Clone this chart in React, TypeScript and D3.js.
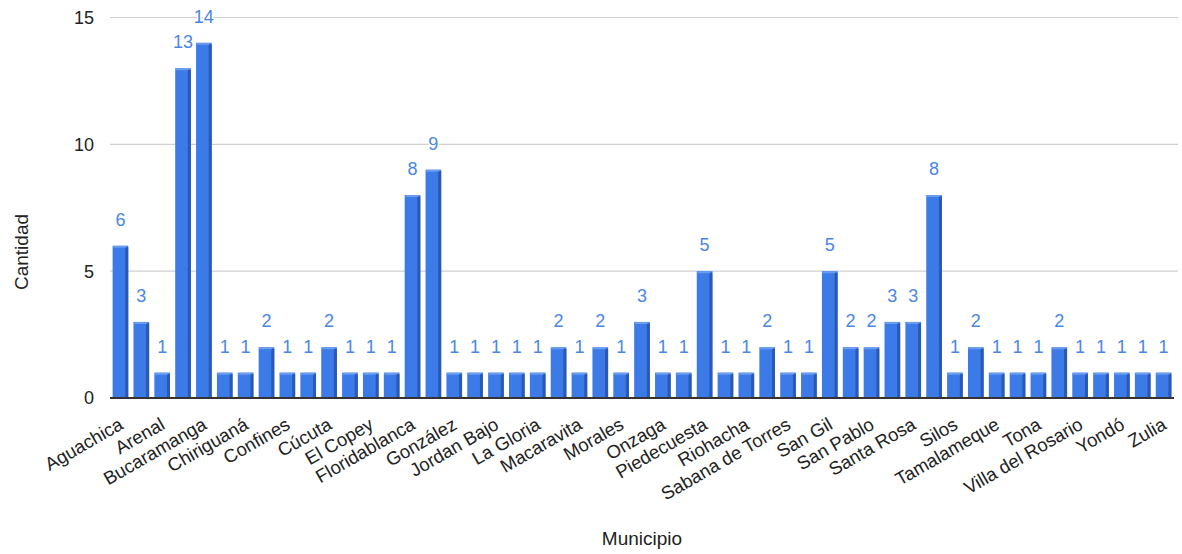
import React from "react";
import * as d3 from "d3";

const municipios: string[] = [
  "Aguachica", "Aguada", "Arenal", "Barrancabermeja", "Bucaramanga", "California",
  "Chiriguaná", "Cimitarra", "Confines", "Contratación", "Cúcuta", "El Carmen",
  "El Copey", "El Playón", "Floridablanca", "Girón", "González", "Guaca",
  "Jordan Bajo", "La Belleza", "La Gloria", "Lebrija", "Macaravita", "Málaga",
  "Morales", "Ocaña", "Onzaga", "Pamplona", "Piedecuesta", "Puerto Wilches",
  "Riohacha", "Rionegro", "Sabana de Torres", "San Alberto", "San Gil", "San Martín",
  "San Pablo", "San Vicente de Chucurí", "Santa Rosa", "Sardinata", "Silos", "Suratá",
  "Tamalameque", "Tibú", "Tona", "Valledupar", "Villa del Rosario", "Villanueva",
  "Yondó", "Zapatoca", "Zulia",
];

const cantidad: number[] = [
  6, 3, 1, 13, 14, 1, 1, 2, 1, 1, 2, 1, 1, 1, 8, 9, 1, 1,
  1, 1, 1, 2, 1, 2, 1, 3, 1, 1, 5, 1, 1, 2, 1, 1, 5, 2,
  2, 3, 3, 8, 1, 2, 1, 1, 1, 2, 1, 1, 1, 1, 1,
];

const yTicks: number[] = [0, 5, 10, 15];

const W = 1182;
const H = 554;
const left = 110;
const right = 1174;
const top = 17.5;
const base = 398;
const FONT = "Arial, 'Liberation Sans', sans-serif";

export default function App() {
  const x = d3.scaleBand<string>().domain(municipios).range([left, right]).paddingInner(0.25).paddingOuter(0.125);
  const y = d3.scaleLinear().domain([0, 15]).range([base, top]);
  const bw = x.bandwidth();

  return (
    <svg width={W} height={H} style={{ position: "absolute", left: 0, top: 0, background: "#fff" }} fontFamily={FONT}>
      {yTicks.map((t) => (
        <g key={t}>
          {t > 0 && <line x1={left} x2={1178} y1={y(t)} y2={y(t)} stroke="#cfcfcf" strokeWidth={1.2} />}
          <text x={94} y={y(t)} dy="0.36em" textAnchor="end" fontSize={18} fill="#222">{t}</text>
        </g>
      ))}
      {municipios.map((m, i) => {
        const v = cantidad[i];
        const x0 = x(m) as number;
        const yt = y(v);
        return (
          <g key={m}>
            <rect x={x0} y={yt} width={bw} height={base - yt} fill="#3c7be7" />
            <rect x={x0 + bw - 3} y={yt + 1.5} width={3} height={base - yt - 1.5} fill="#2a59b5" />
            <polygon points={`${x0},${yt + 2} ${x0 + 1.5},${yt} ${x0 + bw},${yt} ${x0 + bw - 3},${yt + 2}`} fill="#6a9cf0" />
          </g>
        );
      })}
      <line x1={left} x2={right} y1={base} y2={base} stroke="#333" strokeWidth={2} />
      {municipios.map((m, i) => {
        const v = cantidad[i];
        const cx = (x(m) as number) + bw / 2;
        return (
          <text key={"v" + m} x={cx} y={y(v) - 20} textAnchor="middle" fontSize={18} fill="#4a86e8"
            stroke="#fff" strokeWidth={3} paintOrder="stroke">{v}</text>
        );
      })}
      {municipios.map((m, i) =>
        i % 2 === 0 ? (
          <text key={"l" + m} transform={`translate(${(x(m) as number) + bw / 2 + 4},${base + 30}) rotate(-30)`}
            textAnchor="end" fontSize={18.5} fill="#222">{m}</text>
        ) : null
      )}
      <text transform={`translate(28,252) rotate(-90)`} textAnchor="middle" fontSize={19} fill="#222">Cantidad</text>
      <text x={642} y={545} textAnchor="middle" fontSize={19} fill="#222">Municipio</text>
    </svg>
  );
}
